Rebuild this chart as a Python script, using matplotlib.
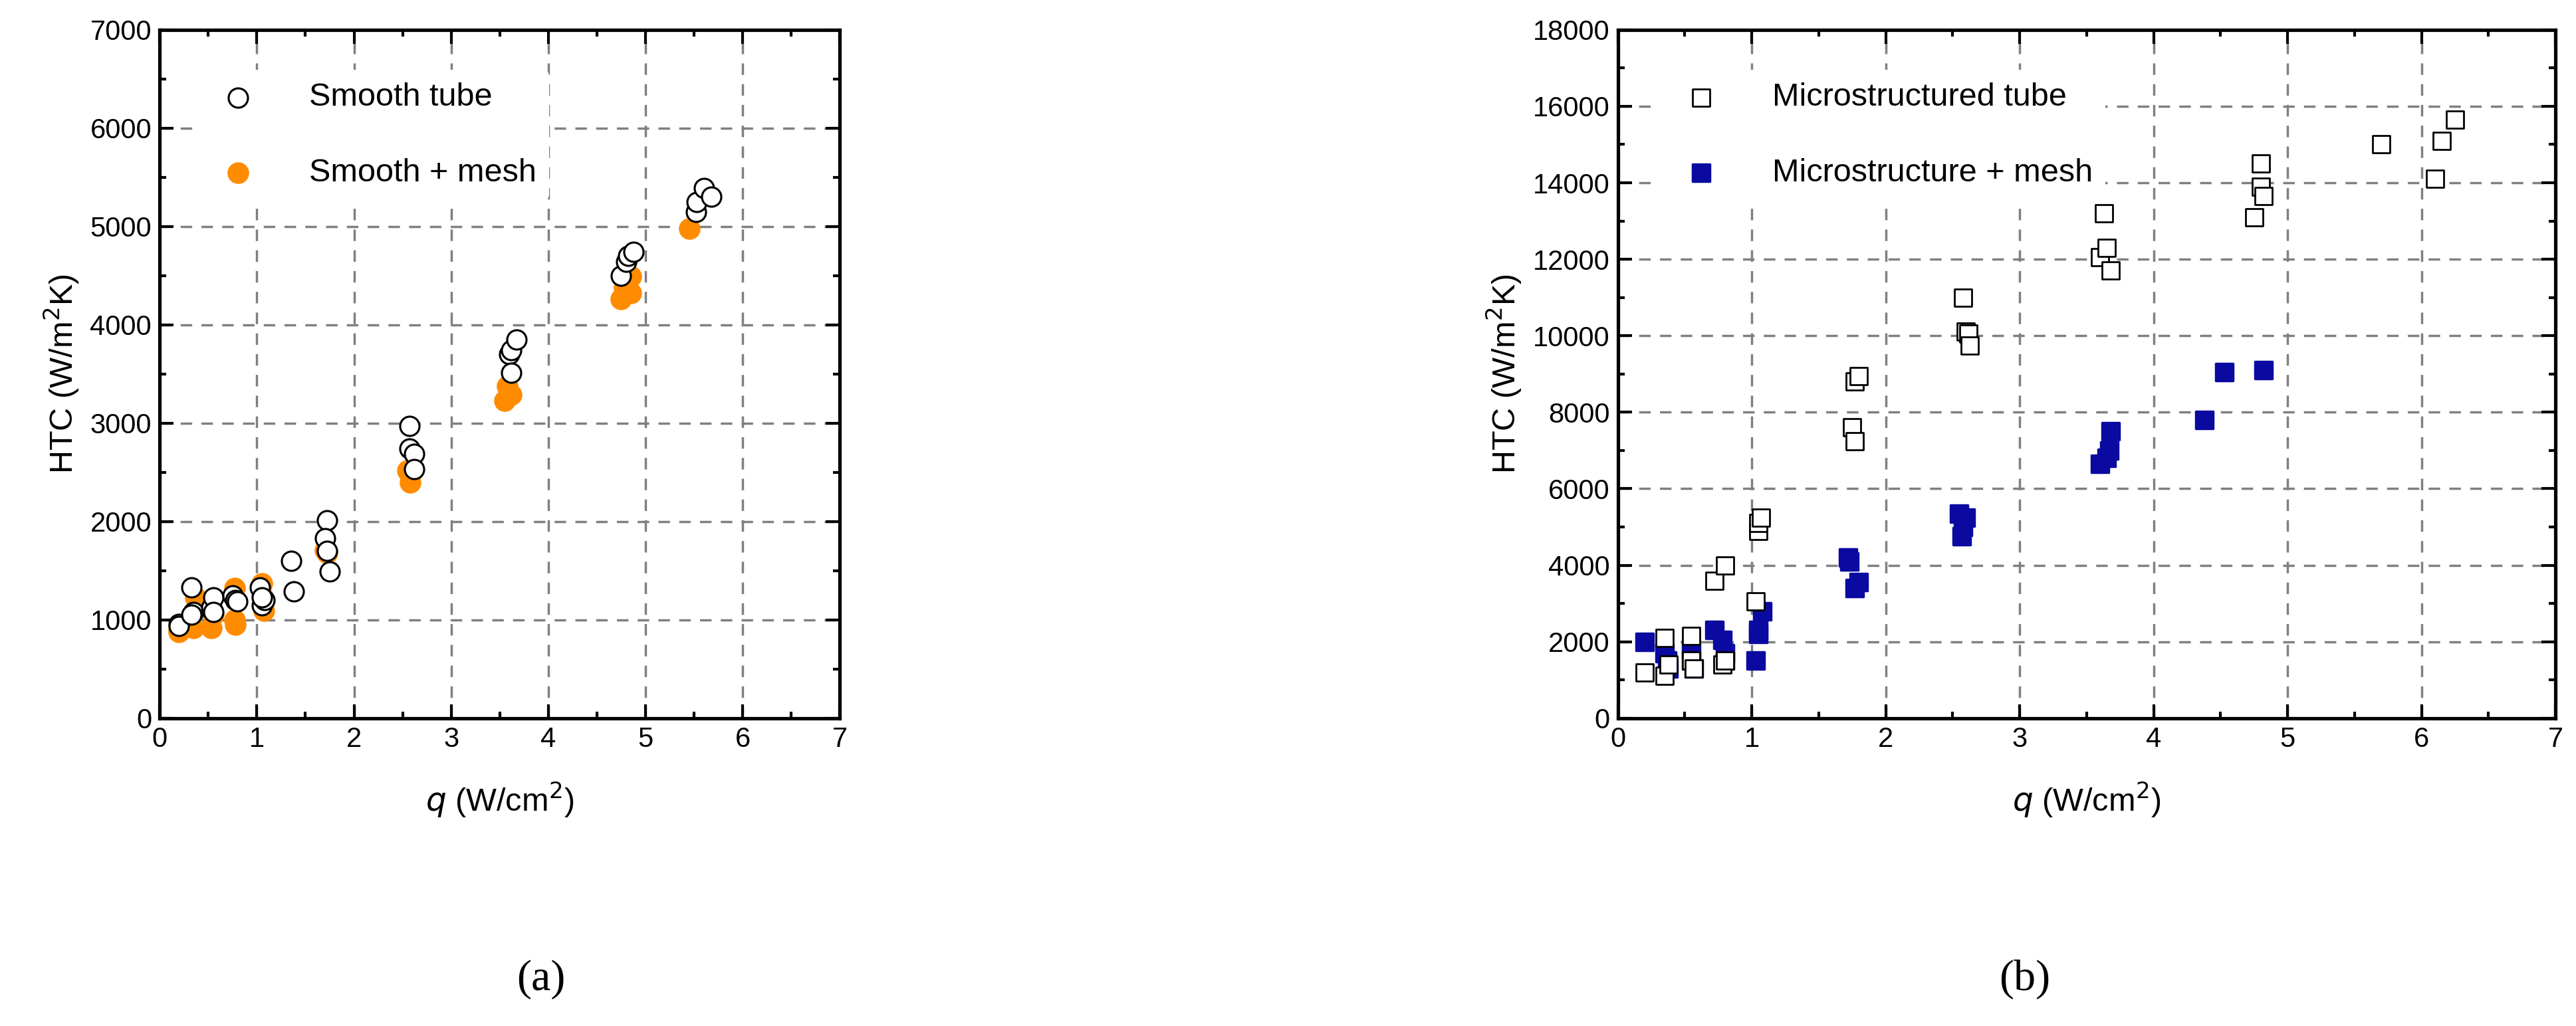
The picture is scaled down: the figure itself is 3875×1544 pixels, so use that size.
import numpy as np
import matplotlib.pyplot as plt
from matplotlib.ticker import MultipleLocator

plt.rcParams['font.family'] = ['Liberation Sans', 'DejaVu Sans']

# (a) smooth tube
smooth_q = [0.2, 0.2, 0.33, 0.35, 0.33, 0.53, 0.55, 0.55, 0.75, 0.78, 0.8, 1.03, 1.05, 1.08, 1.05,
            1.35, 1.38, 1.72, 1.7, 1.72, 1.75, 2.57, 2.57, 2.62, 2.62, 3.6, 3.62, 3.62, 3.67,
            4.75, 4.8, 4.82, 4.88, 5.52, 5.53, 5.6, 5.68]
smooth_h = [960, 940, 1330, 1080, 1050, 1130, 1230, 1080, 1250, 1200, 1190, 1330, 1150, 1200, 1230,
            1600, 1290, 2010, 1830, 1700, 1490, 2970, 2740, 2690, 2530, 3700, 3740, 3510, 3850,
            4500, 4640, 4700, 4740, 5150, 5250, 5390, 5300]
mesh_q = [0.2, 0.2, 0.35, 0.37, 0.53, 0.55, 0.77, 0.77, 0.78, 1.05, 1.07, 1.05, 1.72, 1.7,
          2.55, 2.58, 2.58, 3.55, 3.58, 3.62, 4.75, 4.78, 4.85, 4.85, 5.45]
mesh_h = [880, 900, 920, 1230, 920, 1050, 1320, 1000, 950, 1370, 1090, 1250, 1680, 1710,
          2520, 2400, 2470, 3230, 3380, 3290, 4260, 4380, 4490, 4320, 4980]

# (b) microstructured tube
micro_q = [0.2, 0.35, 0.35, 0.38, 0.55, 0.55, 0.57, 0.72, 0.8, 0.78, 0.8, 1.03, 1.05, 1.05, 1.07,
           1.75, 1.77, 1.77, 1.8, 2.58, 2.6, 2.62, 2.63, 3.6, 3.63, 3.65, 3.68,
           4.75, 4.8, 4.8, 4.82, 5.7, 6.1, 6.15, 6.25]
micro_h = [1200, 1100, 2100, 1400, 2150, 1500, 1300, 3600, 4000, 1400, 1500, 3050, 4900, 5100, 5250,
           7600, 7250, 8800, 8950, 11000, 10100, 10050, 9750, 12050, 13200, 12300, 11700,
           13100, 14500, 13900, 13650, 15000, 14100, 15100, 15650]
mmesh_q = [0.2, 0.35, 0.37, 0.38, 0.55, 0.55, 0.57, 0.72, 0.78, 0.8, 0.8, 1.03, 1.05, 1.05, 1.08,
           1.72, 1.73, 1.77, 1.8, 2.55, 2.6, 2.58, 2.57, 3.6, 3.65, 3.67, 3.68, 4.38, 4.53, 4.82]
mmesh_h = [2000, 1700, 1500, 1300, 1800, 1500, 1300, 2300, 2050, 1700, 1500, 1500, 2300, 2200, 2800,
           4200, 4100, 3400, 3550, 5350, 5250, 5000, 4750, 6650, 6800, 7000, 7500, 7800, 9050, 9100]

fig = plt.figure(figsize=(15.5, 6.176), dpi=250)
ax1 = fig.add_axes([0.062, 0.30, 0.264, 0.671])
ax2 = fig.add_axes([0.628, 0.30, 0.364, 0.671])


def style(ax, ymax, ymaj, ymin):
    ax.set_xlim(0, 7)
    ax.set_ylim(0, ymax)
    ax.xaxis.set_major_locator(MultipleLocator(1))
    ax.xaxis.set_minor_locator(MultipleLocator(0.5))
    ax.yaxis.set_major_locator(MultipleLocator(ymaj))
    ax.yaxis.set_minor_locator(MultipleLocator(ymin))
    ax.tick_params(which='both', direction='in', top=True, right=True, labelsize=12)
    ax.tick_params(which='major', length=6, width=1.2)
    ax.tick_params(which='minor', length=3, width=1.2)
    ax.grid(True, which='major', ls=(0, (5, 4)), color='#808080', lw=1)
    ax.set_axisbelow(True)
    for s in ax.spines.values():
        s.set_linewidth(1.5)
    ax.set_xlabel('$q$ (W/cm$^2$)', fontsize=14, labelpad=12)
    ax.set_ylabel('HTC (W/m$^2$K)', fontsize=14)


ax1.scatter(smooth_q, smooth_h, s=70, facecolors='white', edgecolors='black', lw=0.9,
            label='Smooth tube', zorder=3)
ax1.scatter(mesh_q, mesh_h, s=70, color='#ff8c00', label='Smooth + mesh', zorder=2)
style(ax1, 7000, 1000, 500)
leg = ax1.legend(loc='upper left', fontsize=14, frameon=True, labelspacing=1.4,
                 handletextpad=1.2, borderaxespad=0.6, bbox_to_anchor=(0.02, 0.97))
leg.get_frame().set_edgecolor('none')
leg.get_frame().set_alpha(1)

ax2.scatter(micro_q, micro_h, s=60, marker='s', facecolors='white', edgecolors='black', lw=0.8,
            label='Microstructured tube', zorder=3)
ax2.scatter(mmesh_q, mmesh_h, s=60, marker='s', color='#0a0aa0', label='Microstructure + mesh', zorder=2)
style(ax2, 18000, 2000, 1000)
leg = ax2.legend(loc='upper left', fontsize=14, frameon=True, labelspacing=1.4,
                 handletextpad=1.2, borderaxespad=0.6, bbox_to_anchor=(0.02, 0.97))
leg.get_frame().set_edgecolor('none')
leg.get_frame().set_alpha(1)

fig.text(0.21, 0.035, '(a)', fontsize=19, ha='center', family='Liberation Serif')
fig.text(0.786, 0.035, '(b)', fontsize=19, ha='center', family='Liberation Serif')

plt.savefig('out.png')
